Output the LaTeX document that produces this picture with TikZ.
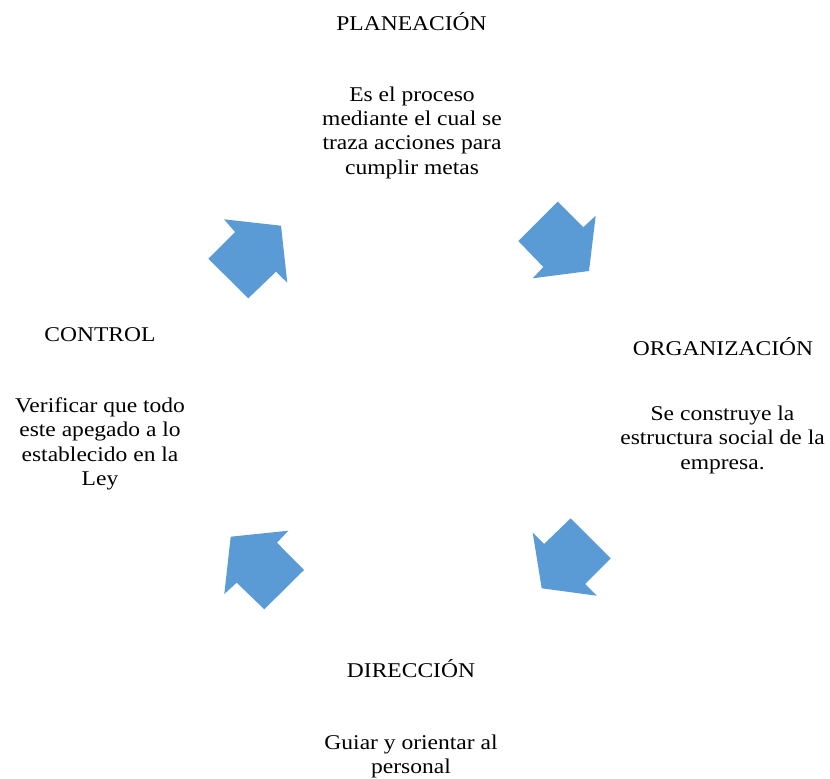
\documentclass[tikz,border=0pt]{standalone}
\usepackage{fontspec}
\setmainfont{Liberation Serif}[FakeStretch=1.12]
\definecolor{cycleblue}{HTML}{5B9BD5}
\begin{document}
\begin{tikzpicture}[x=0.75pt,y=-0.75pt,
  title/.style={anchor=base,inner sep=0pt,font=\fontsize{15.75}{18.3}\selectfont},
  body/.style={anchor=base,inner sep=0pt,align=center,font=\fontsize{15.75}{18.3}\selectfont},
  blockarrow/.style={fill=cycleblue,draw=none}]
\useasboundingbox (0,0) rectangle (830,778);

% stage titles and descriptions (body nodes sit on the baseline of their last line)
\node[title] (plan) at (411.5,30) {PLANEACIÓN};
\node[body] (plantext) at (412,174.2) {Es el proceso\\mediante el cual se\\traza acciones para\\cumplir metas};

\node[title] (org) at (723,355) {ORGANIZACIÓN};
\node[body] (orgtext) at (722.5,469.3) {Se construye la\\estructura social de la\\empresa.};

\node[title] (dir) at (411,677) {DIRECCIÓN};
\node[body] (dirtext) at (411,773.4) {Guiar y orientar al\\personal};

\node[title] (ctrl) at (100,341) {CONTROL};
\node[body] (ctrltext) at (100,485.7) {Verificar que todo\\este apegado a lo\\establecido en la\\Ley};

% block arrows of the cycle
\fill[blockarrow] (224,219.3) -- (281,225.7) -- (287.3,282.7) -- (276,271.7)
  -- (248.3,298.3) -- (208.3,258.7) -- (235,232) -- cycle;
\fill[blockarrow] (557.7,201.7) -- (583.3,227.3) -- (595.7,215.7) -- (589,271)
  -- (532.7,278.3) -- (543.3,267) -- (518.3,241) -- cycle;
\fill[blockarrow] (570.7,518.3) -- (610.7,558.3) -- (585,584) -- (596.7,595.7)
  -- (541.7,588.3) -- (532.7,532.7) -- (544,544) -- cycle;
\fill[blockarrow] (288.3,530.7) -- (277,542.7) -- (304,570) -- (264.3,609.3)
  -- (236.7,582.7) -- (224.3,594) -- (230.7,536.7) -- cycle;
\end{tikzpicture}
\end{document}
